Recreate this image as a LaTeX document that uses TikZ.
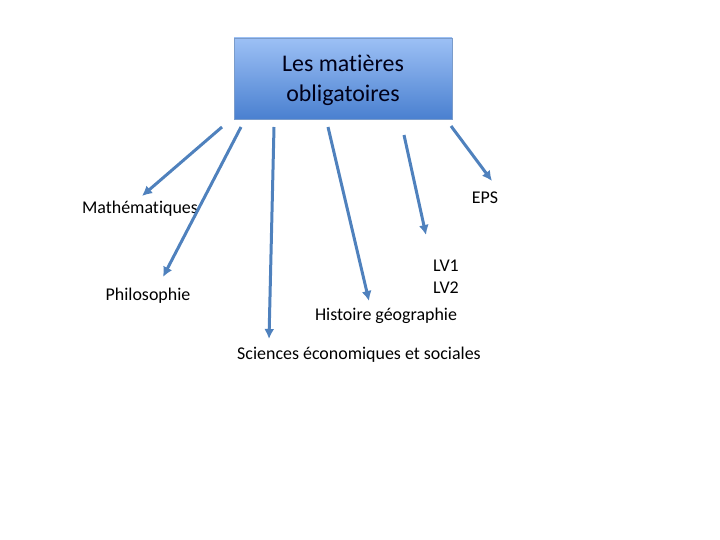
\documentclass[tikz,border=0pt]{standalone}
\usepackage{fontspec}
\setmainfont[Ligatures=NoCommon]{Carlito}
\usetikzlibrary{arrows.meta}
\definecolor{arrowblue}{HTML}{4F81BD}
\definecolor{boxtop}{HTML}{9CC0F5}
\definecolor{boxbottom}{HTML}{4A80D0}
\definecolor{boxline}{HTML}{7A9CCB}
\begin{document}
\begin{tikzpicture}[x=1bp, y=-1bp,
	label/.style={font=\fontsize{18}{21}\selectfont, inner sep=0pt},
	fleche/.style={line width=3bp, arrowblue, -{Latex[length=10bp,width=10bp]}}]
	\useasboundingbox (0,0) rectangle (720,540);
	\draw[boxline, top color=boxtop, bottom color=boxbottom](234, 38) rectangle (452, 119);
	\node[font=\fontsize{24}{30}\selectfont, align=center, text=black!90!blue] (titre) at (343,80.5) {Les matières\\obligatoires};
	\node[label] (maths) at (140,208.5) {Mathématiques};
	\node[label] (philo) at (148,295.5) {Philosophie};
	\node[label] (eps) at (485,197.5) {EPS};
	\node[label] (lv1) at (446,265.5) {LV1};
	\node[label] (lv2) at (446,287.5) {LV2};
	\node[label] (histgeo) at (386,315.5) {Histoire géographie};
	\node[label] (ses) at (359,354.5) {Sciences économiques et sociales};
	\coordinate (d1) at (222,127); \coordinate (a1) at (142,196);
	\coordinate (d2) at (241,127); \coordinate (a2) at (163,277);
	\coordinate (d3) at (274,127); \coordinate (a3) at (269,339);
	\coordinate (d4) at (328,127); \coordinate (a4) at (369,301);
	\coordinate (d5) at (404,135); \coordinate (a5) at (426,235);
	\coordinate (d6) at (451,126); \coordinate (a6) at (492,181);
	\draw[fleche] (d1) -- (a1);
	\draw[fleche] (d2) -- (a2);
	\draw[fleche] (d3) -- (a3);
	\draw[fleche] (d4) -- (a4);
	\draw[fleche] (d5) -- (a5);
	\draw[fleche] (d6) -- (a6);
\end{tikzpicture}
\end{document}
